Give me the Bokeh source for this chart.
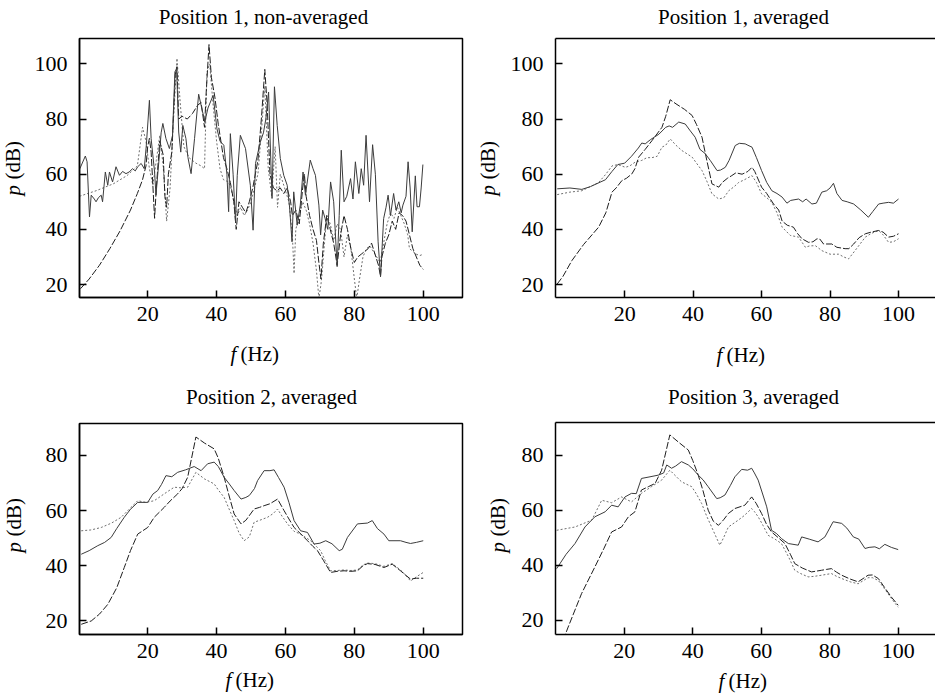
import math
from bokeh.plotting import figure
from bokeh.models import Range1d, Label, LinearAxis, FixedTicker, GridBox
from bokeh.embed import file_html
from bokeh.resources import INLINE

# ---------------- data ----------------
x_ticks = [20, 40, 60, 80, 100]
y_ticks_top = [20, 40, 60, 80, 100]
y_ticks_bottom = [20, 40, 60, 80]

titles = ["Position 1, non-averaged", "Position 1, averaged",
          "Position 2, averaged", "Position 3, averaged"]
x_label_var = "f"
x_label_unit = "(Hz)"
y_label_var = "p"
y_label_unit = "(dB)"

# Panel 1: position 1, non-averaged
p1_solid_f = [0.3, 1.9, 2.4, 3.1, 3.6, 4.5, 5.0, 5.7, 6.5, 6.9,
              7.7, 8.4, 8.9, 9.8, 10.8, 11.8, 12.7, 13.7, 14.6, 15.6,
              16.4, 17.1, 18.1, 19.0, 19.6, 20.5, 21.0, 22.0, 22.4, 23.2,
              23.9, 24.4, 25.3, 26.3, 27.2, 27.9, 28.4, 29.0, 29.6, 30.2,
              31.1, 31.7, 32.6, 33.6, 34.8, 35.5, 36.6, 37.5, 39.0, 40.1,
              41.0, 42.1, 43.0, 43.5, 44.0, 44.8, 45.5, 46.0, 46.9, 48.4,
              49.8, 50.6, 51.3, 52.7, 53.6, 54.3, 55.1, 56.1, 56.8, 57.6,
              58.5, 59.5, 60.5, 61.2, 61.9, 62.4, 63.4, 64.3, 65.1, 65.8,
              67.2, 68.0, 68.7, 69.7, 70.2, 70.8, 71.5, 72.3, 73.1, 74.0,
              75.0, 75.6, 76.2, 77.0, 77.8, 78.9, 79.6, 80.3, 81.3, 82.0,
              82.7, 83.4, 84.4, 85.3, 86.1, 86.9, 87.6, 88.5, 89.2, 89.8,
              90.5, 91.4, 92.1, 92.9, 93.6, 94.1, 95.0, 95.6, 96.2, 96.8,
              97.7, 98.2, 98.9, 99.4, 99.9]
p1_solid_p = [62, 66.6, 64.5, 44.5, 52.4, 51, 50, 51.5, 52.4, 50,
              60.8, 56, 60.8, 57.2, 62.7, 59.6, 61, 60.2, 60.8, 62,
              61.2, 62.7, 63.9, 62, 70.5, 86.8, 72.9, 60.8, 52.4, 64,
              75, 78.4, 72.9, 69.3, 74, 97.1, 98.3, 75.3, 68, 77.7,
              72.9, 66, 60.2, 72.9, 89, 85, 79, 84, 88.6, 76.5,
              72, 70.5, 60, 46.4, 74.7, 60, 42.7, 59.6, 74.1, 69.3,
              56, 39.7, 63.9, 71.7, 75, 80, 89.8, 51.2, 91.7, 77.7,
              65.7, 59.6, 56, 48, 35.5, 53.6, 41.5, 48.8, 60.8, 52.4,
              65.1, 62, 59.6, 48.8, 38, 47, 44, 40, 57.2, 50,
              26.5, 45, 68.7, 50, 52, 58.4, 51, 64.5, 53, 62,
              56, 74.1, 50, 70.7, 60, 35.5, 22.8, 43.9, 48, 52.4,
              45, 53, 47, 50, 46, 48.8, 52, 64.5, 55, 39.1,
              59.4, 48.2, 48.2, 55, 63.5]
p1_dot_f = [0.2, 5, 10, 14, 17, 18.5, 19.5, 20.5, 21.5, 22.5,
            23.5, 24.5, 25.5, 26.5, 27.5, 28.5, 29.5, 30.5, 32, 34,
            35.5, 36.5, 37.2, 38, 39, 40, 41, 42, 43, 44,
            45, 46, 47, 48, 49, 50, 51, 52, 53, 54,
            55, 56, 57, 57.7, 58.5, 59.5, 60.5, 61, 62, 62.5,
            63, 64, 65, 66, 67, 68, 69, 69.7, 70.3, 70.7,
            71, 72, 73, 74, 75, 76, 77, 78, 79, 80,
            80.7, 81.5, 82.5, 83.5, 84.5, 85.5, 86.5, 87.5, 88.5, 89.5,
            90.5, 91.5, 92.5, 93.5, 94.5, 95.5, 96, 97, 98, 99, 100]
p1_dot_p = [52, 54, 56.5, 59.5, 63, 77, 72, 62, 56, 65,
            74, 63, 43, 55, 80, 102, 85, 70, 66, 64,
            63, 62, 97, 100, 85, 72, 62, 58, 57.5, 56,
            50, 45, 48, 45, 47, 50, 55, 60, 75, 92,
            62, 52, 70, 48, 60, 56, 52, 50, 38, 24,
            40, 45, 50, 47, 42, 35, 25, 15, 20, 25,
            30, 45, 42, 36, 42, 40, 30, 38, 33, 22,
            15, 22, 30, 33, 34, 32, 30, 28, 35, 42,
            46, 44, 48, 45, 42, 38, 33, 32, 31, 30.5, 31]
p1_dash_f = [0.5, 3, 6, 9, 12, 15, 17, 18.5, 19.5, 20,
             20.5, 21, 22, 22.5, 23.5, 24.5, 25, 25.5, 26, 27,
             28, 28.5, 29, 30, 31.5, 33, 34.5, 35.5, 36.5, 37,
             37.8, 38.5, 39.5, 40.5, 42, 43, 44, 45, 45.7, 46.5,
             47.5, 48.5, 49.5, 50.5, 52, 53, 54, 54.7, 55.5, 56.5,
             57.5, 58.5, 59.5, 60.5, 61.5, 62, 63, 64, 65, 65.5,
             66, 67, 68, 69, 69.7, 70.3, 71, 72, 73, 74,
             75, 76, 77, 78, 79, 80, 81, 82, 84, 85,
             86, 87, 87.6, 88, 89, 90, 91, 92, 93, 94,
             95, 96, 97, 98, 99, 100]
p1_dash_p = [18.5, 22, 27, 33, 39.5, 47, 53, 58, 63, 70,
             73, 68, 44, 55, 72, 67, 52, 48, 60, 68,
             96, 99, 80, 81, 80, 82, 85, 86, 77, 90,
             107, 95, 88, 78, 66, 62, 57, 50, 40, 50,
             48, 46, 50, 55, 65, 80, 98, 85, 60, 55,
             54, 55, 53, 55, 50, 45, 47, 42, 55, 60,
             52, 45, 40, 36, 28, 22, 35, 45, 40, 35,
             27, 38, 45, 40, 33, 28, 30, 31, 33, 35,
             31, 27, 23, 30, 35, 38, 43, 40, 46, 45,
             43, 38, 33, 30, 27, 25.5]

# Panel 2: position 1, averaged
p2_solid_f = [0.3, 4, 7.5, 10, 14.4, 16.3, 18, 20, 22, 24, 25, 26, 27.5, 30, 32, 33, 34, 35.8, 37.7, 39,
              40.6, 42, 43.5, 45, 47, 48, 49.4, 50.5, 52.3, 53.5, 55.2, 56, 57.2, 58.5, 60, 61.5, 63, 64.5, 66, 67.4,
              68.5, 70.8, 72, 73, 74.7, 76, 77.6, 79, 80, 81, 82, 83.5, 85, 86.9, 89, 91.2, 92.5, 94.2, 95.5, 97.1,
              98.5, 100]
p2_solid_p = [54.7, 55, 54.5, 55.5, 58, 61, 63.5, 64, 66.5, 69.5, 71.3, 71, 72.5, 74.5, 77, 77.5, 77, 78.9, 78.2, 76,
              73.4, 69, 67.5, 65, 61.3, 61.5, 62.5, 65, 70.4, 71.2, 71, 70.5, 69.8, 66, 61.3, 57, 54, 53, 51.7, 49.5,
              50.5, 51, 50, 51, 49.2, 49.5, 53.5, 54, 55, 56.7, 53, 50.5, 50, 49.2, 47, 44.4, 46.5, 49.2, 49.5, 49.8,
              49.5, 51]
p2_dash_f = [0.3, 2, 4.6, 8, 12.4, 14.5, 16.3, 17.5, 19.2, 20.5, 22.1, 23, 24.1, 26, 28, 30.9, 32, 33.3, 35, 37.5,
             39.7, 41, 42.6, 44, 45.5, 47.5, 48.5, 50, 51.3, 52.5, 54.3, 56, 57.2, 58, 60, 61.5, 63.5, 65, 66, 67.5,
             69.3, 70.5, 71.8, 73.7, 75, 76.2, 77, 78.1, 80.5, 82, 84.4, 85.5, 86.9, 88.5, 90.3, 92, 94.2, 95.5, 97.1,
             98.5, 100]
p2_dash_p = [20.2, 23, 28.7, 34.5, 40.8, 46, 53.5, 55, 57.7, 58.5, 60.1, 62, 66.2, 69, 72.2, 77, 81, 87, 85.5, 83.5,
             81.3, 78, 73.4, 65, 56.5, 55.3, 57, 58.5, 59.5, 60.5, 60, 61, 62.5, 61, 55.3, 53, 49.2, 47, 43, 41.5,
             40.8, 38.5, 36.6, 35.3, 35.5, 36.6, 36.5, 34.7, 34.7, 33.5, 33, 33, 34.7, 37, 38.4, 39, 39.6, 39, 37.2,
             37.5, 38.4]
p2_dot_f = [0.3, 4, 7.5, 12.4, 14.5, 16.3, 18, 20.2, 21.5, 23.1, 25, 26.5, 28, 29.5, 30.9, 32, 33.3, 35, 36.7, 39.7,
            41, 42.6, 44, 45.5, 47.5, 49, 50.4, 52, 53.3, 55, 57.2, 58.5, 60, 61.5, 63, 64.5, 66, 68.4, 70.8, 72.8,
            74, 75.7, 77.6, 80, 82.5, 84, 85.4, 87.3, 90.3, 92, 94.2, 95.5, 97.1, 98.5, 100]
p2_dot_p = [52.6, 53.5, 54, 57, 60, 63, 63.5, 62.5, 63, 64.4, 65, 66, 66, 66.5, 69.8, 70.5, 72.8, 70.5, 68.6, 66.2,
            64, 61.3, 57.5, 52.9, 51, 51.5, 54, 55.5, 57, 58, 59.5, 57, 52.9, 51.5, 49.8, 46, 40.8, 37.8, 37.2, 33.5,
            34, 34.1, 32.3, 31, 31, 30, 29.3, 32.3, 37.2, 38.5, 39.6, 38, 35.3, 35.5, 36.6]

# Panel 3: position 2, averaged
p3_solid_f = [0.7, 3, 5.5, 7.5, 9.4, 11, 13.2, 15, 17.1, 20, 21.5, 22.9, 24, 25.3, 27, 28.7, 31, 33.5, 35.5, 37.4,
              39.3, 40.5, 42.2, 43.5, 45.1, 47.1, 48.5, 49.5, 51, 51.9, 53.8, 55.5, 56.7, 58, 59.6, 61, 62.5, 64.4,
              66.4, 68.3, 70, 71.7, 73.5, 75.6, 76.5, 78, 80.9, 83.8, 85.2, 86.7, 88.6, 90, 93.4, 95, 96.3, 98, 100]
p3_solid_p = [44.2, 45.5, 47.3, 48.5, 50.3, 53.5, 57.6, 60.5, 63, 63, 66, 67.3, 69.5, 72.7, 72.3, 73.9, 74.8, 76, 74.5,
              77, 77.6, 76, 72.1, 70, 67.3, 64.2, 64.8, 65.5, 68, 70.9, 74.5, 74.5, 74.8, 72, 68.5, 63, 56.4, 52.7,
              52.1, 47.9, 48.2, 49.1, 48, 45.5, 46, 50.3, 55.2, 55.5, 56.4, 53.5, 51.5, 49.1, 49.1, 48.5, 48.1, 48.5,
              49.1]
p3_dash_f = [0.7, 3.6, 6, 8.4, 11, 13.2, 15, 17.1, 20, 21.9, 24.8, 26.5, 28.7, 30, 31.6, 34, 36.5, 39.3, 40.5, 42.2,
             43.5, 45.1, 47.1, 48.5, 50.9, 52.5, 53.8, 55.5, 57.7, 59.6, 61, 62.5, 64.5, 66.4, 68, 69.3, 71, 73.1, 75,
             77, 79, 80.9, 82.5, 83.8, 86, 88.6, 91, 93.4, 95, 96.3, 98, 100]
p3_dash_p = [18.8, 20, 22.5, 26, 32, 39.4, 45.5, 51.5, 53.9, 57.6, 61.2, 63.5, 66.1, 68, 72.1, 86.7, 84.5, 82.4, 79,
             72.1, 66, 58.8, 55.2, 56.5, 60.6, 61.2, 61.8, 62.5, 64.2, 60, 57, 53.9, 51.5, 49.1, 47, 45.5, 42, 37.6,
             38, 38.2, 38, 38.2, 40, 40.8, 40.5, 39.4, 40.6, 38.2, 36.5, 35.2, 35.5, 35.5]
p3_dot_f = [0.7, 3.5, 6.5, 9.5, 12.3, 15, 17.1, 19.5, 21.9, 24.8, 27.7, 29.5, 31.6, 34, 36.5, 39.3, 40.5, 42.2, 43.5,
            45.1, 46.5, 48, 49.5, 50.9, 52.5, 54.8, 56.5, 57.7, 59, 60.6, 62.5, 64.4, 67.3, 70.2, 71.5, 73.1, 75, 77,
            79, 80.9, 82.5, 83.8, 86, 88.6, 91, 93.4, 95, 96.3, 98, 100]
p3_dot_p = [52.7, 53, 53.9, 55.5, 57.6, 61, 63.6, 63, 63.6, 66.1, 68.5, 68.3, 68.5, 73.9, 71.5, 69.7, 67.5, 64.8, 61,
            56.4, 52, 49.1, 50.5, 55.8, 56.5, 57.6, 59, 60.6, 58, 55.2, 52.5, 51.5, 49.1, 45.5, 42, 38.2, 38.3, 38.5,
            38.3, 38.5, 40.3, 41, 40.8, 39.8, 40.8, 38.5, 36.5, 34.5, 36, 37.6]

# Panel 4: position 3, averaged
p4_solid_f = [0.24, 3, 5.6, 8.5, 11.4, 14.4, 16.3, 18.2, 20.2, 22.1, 23.5, 25, 27.5, 29.9, 31.5, 32.4, 33.8, 35, 36.7,
              38.7, 40, 41.6, 43, 44.5, 47, 48, 49.4, 51, 52.3, 54.3, 56, 57.2, 58, 59.1, 60.5, 61.6, 63, 64.5, 65.9,
              67.9, 70.8, 71.8, 74, 76.6, 78.6, 80, 81, 83.5, 85, 86.9, 88.5, 90.3, 91.5, 93.2, 94.5, 96.1, 98, 100]
p4_solid_p = [38.8, 44, 47.9, 53.9, 57.6, 59.4, 61.8, 61.2, 64.8, 66.1, 66, 71.5, 72.1, 72.7, 73.5, 76.4, 75.2, 76,
              77.6, 76.4, 75, 72.7, 71, 68.5, 64.2, 64.5, 65.5, 69, 72.1, 74.8, 74.5, 75.2, 73.5, 70.9, 65.5, 61.2,
              52.7, 51.5, 49.7, 47.9, 47.3, 50.3, 49.5, 48.5, 50.3, 53.5, 55.8, 55.2, 53.5, 50.3, 49.5, 46.1, 46.5,
              46.7, 46, 47.6, 46.5, 45.7]
p4_dash_f = [0.24, 3.6, 7.5, 11.4, 14, 16.3, 19.2, 21.2, 23.1, 25, 27, 29, 30.9, 33.3, 36, 38.7, 40, 41.6, 43, 44.5,
             46, 47.5, 49, 50.4, 52.3, 55.2, 57.2, 58.5, 60.1, 61.5, 63, 65, 66.9, 68.5, 69.8, 72, 74.7, 77.6, 79,
             80.5, 82, 83.5, 86, 88.3, 91.2, 92.5, 94.2, 96, 98, 100]
p4_dash_p = [6.7, 17.6, 29.7, 39.4, 46, 52.1, 53.9, 57.6, 59.4, 67.3, 68.5, 69.7, 74.5, 87.3, 84.5, 81.8, 78, 72.7, 67,
             60, 56, 54.5, 56.5, 58.8, 60.6, 61.8, 64.8, 62.5, 58.8, 55, 52.1, 50, 47.9, 44, 40.6, 39, 37.6, 38.2,
             38.5, 38.8, 37.5, 36.4, 35, 34, 36.4, 36.5, 35.2, 32, 28.5, 25.5]
p4_dot_f = [0.24, 5.6, 10.5, 13.4, 16.3, 19.2, 22.1, 25, 27.9, 30.9, 33.3, 36.7, 39.7, 41, 42.6, 44, 45.5, 47.9, 49,
            50.4, 53.3, 55, 57.2, 58, 59.1, 60.5, 62, 64, 65.9, 68, 69.8, 71.5, 73.7, 75.5, 77.6, 80.5, 82, 83.5, 86,
            88.3, 91.2, 92.5, 94.2, 96, 98, 100]
p4_dot_p = [52.7, 53.9, 56.4, 63.6, 62.7, 64.8, 63, 66.1, 68.5, 70.9, 74.5, 70.3, 68.5, 66, 62.4, 58, 53.9, 47.3, 50,
            53.9, 56.4, 58, 60.6, 59.5, 57.6, 54.5, 50.9, 49.5, 47.9, 43, 38.2, 37, 35.8, 36, 36.4, 37, 36, 35.2, 34,
            33.3, 35.5, 35.5, 34.5, 31.5, 28, 24.8]

# ---------------- styling ----------------
PAGE_W, PAGE_H = 935, 696
FONT = "Liberation Serif"
FS = "21px"
TICK_FS = "22px"
SOLID = dict(line_color="#3c3c3c", line_width=1.0)
DASH = dict(line_color="#1e1e1e", line_width=1.0, line_dash="7 2")
DOT = dict(line_color="#6e6e6e", line_width=1.0, line_dash="2 2")


def panel(width, height, left, right, top, bottom, xr, yr, yticks, right_col):
    p = figure(width=width, height=height, x_range=Range1d(*xr), y_range=Range1d(*yr),
               output_backend="svg", toolbar_location=None,
               min_border_left=left, min_border_right=right,
               min_border_top=top, min_border_bottom=bottom)
    p.frame_align = False
    p.xgrid.visible = False
    p.ygrid.visible = False
    p.background_fill_color = "white"
    p.border_fill_color = "white"
    xax = p.below[0]
    yax = p.left[0]
    if right_col:
        p.outline_line_color = None
        top_ax = LinearAxis(ticker=FixedTicker(ticks=[]), major_label_text_font_size="0px",
                            axis_line_width=1.5, axis_line_color="black",
                            major_tick_in=0, major_tick_out=0, minor_tick_in=0, minor_tick_out=0)
        p.add_layout(top_ax, "above")
    else:
        p.outline_line_color = "black"
        p.outline_line_width = 1.5
        p.outline_line_alpha = 1.0
    for ax in (xax, yax):
        ax.axis_line_width = 1.5
        ax.axis_line_color = "black"
        ax.major_tick_in = 7
        ax.major_tick_out = 0
        ax.minor_tick_in = 0
        ax.minor_tick_out = 0
        ax.major_tick_line_width = 1.5
        ax.major_tick_line_color = "black"
        ax.major_label_text_font = FONT
        ax.major_label_text_font_size = TICK_FS
        ax.major_label_text_color = "black"
    xax.ticker = FixedTicker(ticks=x_ticks)
    yax.ticker = FixedTicker(ticks=yticks)
    xax.major_label_standoff = 9
    yax.major_label_standoff = 12
    return p


def add_series(p, solid, dash, dot):
    p.line(dot[0], dot[1], **DOT)
    p.line(dash[0], dash[1], **DASH)
    p.line(solid[0], solid[1], **SOLID)


# Panel 1 (top-left): frame left 79, top 38, right 462, bottom 297
f1 = panel(465, 380, 79, 3, 38, 83, (0.2, 111.4), (15.3, 109.2), y_ticks_top, False)
add_series(f1, (p1_solid_f, p1_solid_p), (p1_dash_f, p1_dash_p), (p1_dot_f, p1_dot_p))

# Panel 2 (top-right)
f2 = panel(470, 380, 90, 0, 38, 83, (-0.2, 110.8), (15.3, 109.2), y_ticks_top, True)
add_series(f2, (p2_solid_f, p2_solid_p), (p2_dash_f, p2_dash_p), (p2_dot_f, p2_dot_p))

# Panel 3 (bottom-left)
f3 = panel(465, 316, 79, 3, 43, 62, (0.2, 111.4), (15.1, 91.6), y_ticks_bottom, False)
add_series(f3, (p3_solid_f, p3_solid_p), (p3_dash_f, p3_dash_p), (p3_dot_f, p3_dot_p))

# Panel 4 (bottom-right)
f4 = panel(470, 316, 90, 0, 42, 62, (-0.1, 110.9), (14.9, 91.8), y_ticks_bottom, True)
add_series(f4, (p4_solid_f, p4_solid_p), (p4_dash_f, p4_dash_p), (p4_dot_f, p4_dot_p))

# ---------- transparent text overlay covering the whole page (page pixel coords) ----------
ov = figure(width=PAGE_W, height=PAGE_H, x_range=Range1d(0, PAGE_W), y_range=Range1d(0, PAGE_H),
            output_backend="svg", toolbar_location=None, x_axis_type=None, y_axis_type=None,
            min_border=0, min_border_left=0, min_border_right=0, min_border_top=0, min_border_bottom=0)
ov.frame_align = False
ov.xgrid.visible = False
ov.ygrid.visible = False
ov.outline_line_color = None
ov.background_fill_color = None
ov.border_fill_color = None


def txt(text, x, y, align="left", italic=False, angle=0.0):
    ov.add_layout(Label(x=x, y=PAGE_H - y, text=text,
                        text_font=FONT, text_font_size=FS,
                        text_font_style="italic" if italic else "normal",
                        text_align=align, text_baseline="alphabetic",
                        angle=angle, text_color="black"))


# titles (centre x, baseline y)
txt(titles[0], 263, 16, align="center")
txt(titles[1], 743, 16, align="center")
txt(titles[2], 271, 396, align="center")
txt(titles[3], 753, 396, align="center")
# x-axis labels
for fx, ux, by in [(230, 240, 353), (716, 726, 354), (225, 235, 679), (718, 728, 680)]:
    txt(x_label_var, fx, by, italic=True)
    txt(x_label_unit, ux, by)
# y-axis labels (rotated, reading upward)
for bx, py in [(12, 195), (487, 195), (13, 552), (497, 552)]:
    txt(y_label_var, bx, py, italic=True, angle=math.pi / 2)
    txt(y_label_unit, bx, py - 16, angle=math.pi / 2)

grid = GridBox(children=[(f1, 0, 0), (f2, 0, 1), (f3, 1, 0), (f4, 1, 1), (ov, 0, 0, 2, 2)],
               spacing=0)

open("out.html", "w").write(file_html(grid, INLINE))
